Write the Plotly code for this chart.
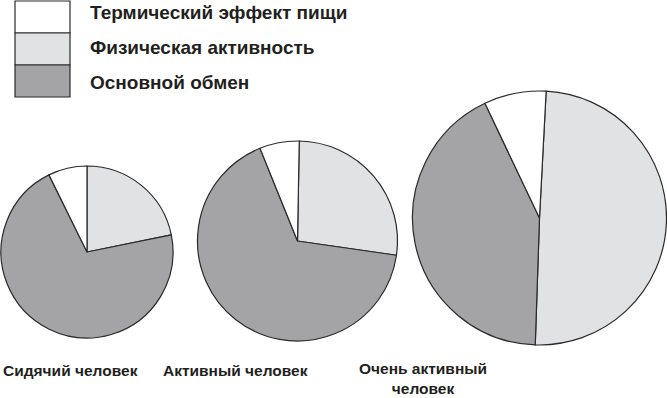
import plotly.graph_objects as go

W, H = 667, 398

components = ["Физическая активность", "Основной обмен", "Термический эффект пищи"]
legend_order = ["Термический эффект пищи", "Физическая активность", "Основной обмен"]
colors = {"Термический эффект пищи": "#ffffff",
          "Физическая активность": "#e1e2e4",
          "Основной обмен": "#a4a3a6"}

people = ["Сидячий человек", "Активный человек", "Очень активный<br>человек"]
phys = [21.8, 27.0, 49.7]
basal = [70.9, 66.6, 42.4]
tef = [7.3, 6.4, 7.9]
rotations = [0, 1, 3]

# pie geometry in pixels: (cx, cy, r)
geom = [(87, 252, 86), (297.5, 241, 100), (539.5, 218, 127)]
label_pos = [(70, 370), (235, 370), (423, 378)]

def px(x):
    return x / W

def py(y):
    return 1 - y / H

fig = go.Figure()
for i, name in enumerate(people):
    cx, cy, r = geom[i]
    vals = [phys[i], basal[i], tef[i]]
    fig.add_trace(go.Pie(
        labels=components,
        values=vals,
        sort=False,
        direction="clockwise",
        rotation=rotations[i],
        marker=dict(colors=[colors[c] for c in components],
                    line=dict(color="#2a2a2a", width=1.2)),
        textinfo="none",
        hoverinfo="label+percent",
        showlegend=False,
        domain=dict(x=[px(cx - r), px(cx + r)], y=[py(cy + r), py(cy - r)]),
    ))

font_family = "Liberation Sans, Arial, sans-serif"

shapes = []
annotations = []
box_edges = [1, 33, 65, 97]
text_y = [12, 48, 83]
for k, name in enumerate(legend_order):
    shapes.append(dict(type="rect", xref="paper", yref="paper",
                       x0=px(15), x1=px(70), y0=py(box_edges[k + 1]), y1=py(box_edges[k]),
                       fillcolor=colors[name], line=dict(color="#2a2a2a", width=1.2)))
    annotations.append(dict(text="<b>%s</b>" % name, x=px(88), y=py(text_y[k]),
                            xref="paper", yref="paper", xanchor="left", yanchor="middle",
                            showarrow=False, font=dict(size=19, color="#231f20", family=font_family)))

for i, name in enumerate(people):
    lx, ly = label_pos[i]
    annotations.append(dict(text="<b>%s</b>" % name, x=px(lx), y=py(ly),
                            xref="paper", yref="paper", xanchor="center", yanchor="middle",
                            showarrow=False, align="center",
                            font=dict(size=15.5, color="#231f20", family=font_family)))

fig.update_layout(
    width=W, height=H,
    margin=dict(l=0, r=0, t=0, b=0),
    paper_bgcolor="white", plot_bgcolor="white",
    shapes=shapes, annotations=annotations,
)

fig.write_html("out.html", config={"displayModeBar": False},
               post_script="document.body.style.margin='0';document.body.style.overflow='hidden';")
